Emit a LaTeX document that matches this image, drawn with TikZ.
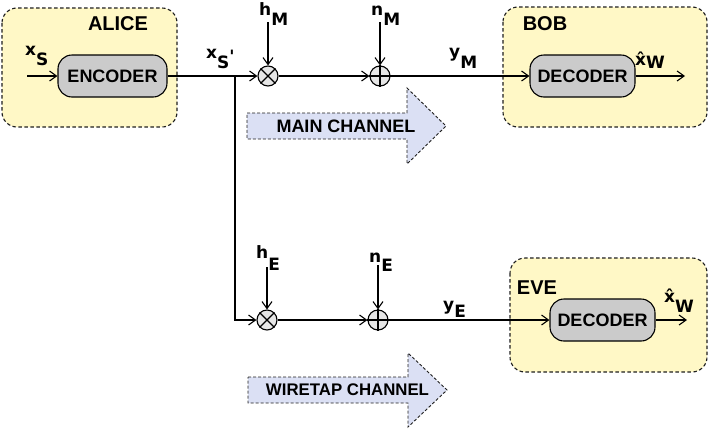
\documentclass[tikz,border=0pt]{standalone}
\usepackage{fontspec}
\setmainfont{Liberation Sans}
\newfontfamily\labfont{DejaVu Sans}
\usetikzlibrary{arrows.meta}
\definecolor{boxyellow}{HTML}{FFF8C6}
\definecolor{decgray}{HTML}{CBCBCB}
\definecolor{opgray}{HTML}{E6E6E6}
\definecolor{chanblue}{HTML}{DBE0F4}
\definecolor{edge}{HTML}{1F1F1F}
\begin{document}
\begin{tikzpicture}[x=1pt,y=-1pt,
  party/.style={draw=edge, fill=boxyellow, dash pattern=on 3.5pt off 2.5pt, rounded corners=15pt, line width=1.1pt},
  block/.style={draw=black, fill=decgray, rounded corners=14pt, minimum width=105pt, minimum height=42pt, line width=1.1pt, font=\fontsize{18}{18}\selectfont\bfseries, inner sep=0pt},
  op/.style={circle, draw=black, fill=opgray, minimum size=20pt, inner sep=0pt, line width=1.1pt},
  wire/.style={line width=1.1pt, draw=black},
  arr/.style={wire, -{Straight Barb[length=7pt,width=10pt]}},
  lab/.style={anchor=base west, inner sep=0pt, font=\labfont\fontsize{17}{17}\selectfont\bfseries},
  title/.style={font=\fontsize{20}{20}\selectfont\bfseries, inner sep=0pt},
  chan/.style={draw=edge, fill=chanblue, dash pattern=on 3pt off 2pt, line width=0.9pt},
  chantext/.style={font=\fontsize{18}{18}\selectfont\bfseries, inner sep=0pt}
]
\useasboundingbox (0,0) rectangle (709,429);

% party boxes
\draw[party] (2,8) rectangle (177,127);
\draw[party] (503,7) rectangle (707,127);
\draw[party] (510,258) rectangle (707,372);
\node[title] (alice) at (118,24) {ALICE};
\node[title] (bob) at (545,24) {BOB};
\node[title] (eve) at (537,288) {EVE};

% channel arrows
\draw[chan] (247,113) -- (407,113) -- (407,88) -- (446,126) -- (407,164) -- (407,139) -- (247,139) -- cycle;
\node[chantext] (mainch) at (346,126) {MAIN CHANNEL};
\draw[chan] (248,377) -- (408,377) -- (408,353) -- (447,390) -- (408,427) -- (408,403) -- (248,403) -- cycle;
\node[chantext, font=\fontsize{16.8}{16.8}\selectfont\bfseries] (wirech) at (347.5,390) {WIRETAP CHANNEL};

% blocks
\node[block, minimum width=109pt] (enc) at (112.5,76) {ENCODER};
\node[block] (decB) at (582.5,76) {DECODER};
\node[block] (decE) at (602.5,320) {DECODER};

% operators
\node[op] (m1) at (268,76) {};
\node[op] (a1) at (380,76) {};
\node[op] (m2) at (267,320) {};
\node[op] (a2) at (378,320) {};
\draw[wire] (m1.45) -- (m1.225) (m1.135) -- (m1.315);
\draw[wire] (m2.45) -- (m2.225) (m2.135) -- (m2.315);
\draw[wire] (a1.north) -- (a1.south) (a1.west) -- (a1.east);
\draw[wire] (a2.north) -- (a2.south) (a2.west) -- (a2.east);

% coordinates
\coordinate (in) at (27,76);
\coordinate (J) at (235,76);
\coordinate (hMt) at (268,22);
\coordinate (nMt) at (380,22);
\coordinate (hEt) at (267,267);
\coordinate (nEt) at (378,265);
\coordinate (outB) at (685,76);
\coordinate (outE) at (687,320);

% connectors
\draw[arr] (in) -- (enc.west);
\draw[arr] (enc.east) -- (m1.west);
\draw[arr] (m1.east) -- (a1.west);
\draw[arr] (a1.east) -- (decB.west);
\draw[arr] (decB.east) -- (outB);
\draw[arr] (J) |- (m2.west);
\draw[arr] (m2.east) -- (a2.west);
\draw[arr] (a2.east) -- (decE.west);
\draw[arr] (decE.east) -- (outE);
\draw[arr] (hMt) -- (m1.north);
\draw[arr] (nMt) -- (a1.north);
\draw[arr] (hEt) -- (m2.north);
\draw[arr] (nEt) -- (a2.north);

% labels
\node[lab] (xs) at (25,65) {\raisebox{10pt}{x}S};
\node[lab] (xsp) at (206,68) {\raisebox{10pt}{x}S\raisebox{6pt}{\textquotesingle}};
\node[lab] (hM) at (259,25) {\raisebox{10pt}{h}M};
\node[lab] (nM) at (371,25) {\raisebox{10pt}{n}M};
\node[lab] (yM) at (449,68) {\raisebox{11pt}{y}M};
\node[lab] (xwB) at (635,68) {\raisebox{3pt}{\^x}W};
\node[lab] (hE) at (256,270) {\raisebox{12pt}{h}E};
\node[lab] (nE) at (369,271) {\raisebox{9pt}{n}E};
\node[lab] (yE) at (443,317) {\raisebox{7pt}{y}E};
\node[lab] (xwE) at (664,312) {\raisebox{10pt}{\^x}W};
\end{tikzpicture}
\end{document}
